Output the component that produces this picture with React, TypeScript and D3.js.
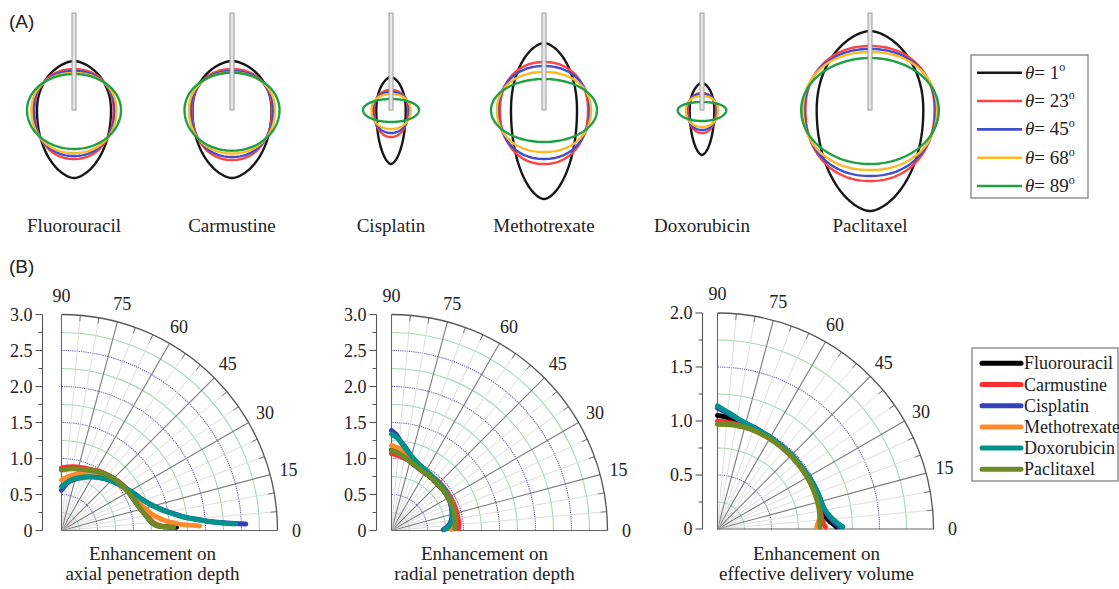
import React from 'react';
import * as d3 from 'd3';

// ---- panel A: penetration contours ----
const drugs = ['Fluorouracil', 'Carmustine', 'Cisplatin', 'Methotrexate', 'Doxorubicin', 'Paclitaxel'];
const thetaLabels = ['1', '23', '45', '68', '89'];
const thetaColors = ['#161616', '#ff4242', '#3f4fcf', '#ffb923', '#1fa045'];

// [half width, extent above tip, extent below tip] per theta (1, 23, 45, 68, 89 deg)
const fluorouracilShape = [[3.7, 4.9, 6.8], [3.95, 4.1, 4.9], [4.05, 3.9, 4.6], [4.25, 3.7, 4.3], [4.7, 3.6, 3.9]];
const carmustineShape = [[3.95, 4.9, 6.8], [4.0, 4.1, 5.0], [4.1, 3.9, 4.7], [4.3, 3.75, 4.35], [4.75, 3.73, 4.07]];
const cisplatinShape = [[1.47, 3.3, 5.4], [1.7, 2.0, 2.7], [1.8, 1.8, 2.3], [1.95, 1.6, 1.9], [2.8, 1.1, 1.2]];
const methotrexateShape = [[3.3, 6.7, 8.9], [4.4, 4.8, 5.4], [4.55, 4.4, 4.9], [4.7, 3.8, 4.2], [5.3, 3.1, 3.2]];
const doxorubicinShape = [[1.23, 2.7, 4.5], [1.4, 1.7, 2.3], [1.5, 1.6, 2.0], [1.6, 1.4, 1.7], [2.43, 0.8, 1.1]];
const paclitaxelShape = [[5.33, 7.9, 10.1], [6.45, 6.4, 7.1], [6.55, 6.1, 6.6], [6.7, 5.8, 6.0], [6.88, 5.2, 5.4]];
const panelAShapes = [fluorouracilShape, carmustineShape, cisplatinShape, methotrexateShape, doxorubicinShape, paclitaxelShape];

// ---- panel B: polar enhancement curves, [angle deg, value] ----
const drugColors = ['#000000', '#ff2d2d', '#3342b8', '#ff8a2a', '#00928b', '#6e8a26'];

const axialFluorouracil = [[90, 0.85], [80, 0.88], [70, 0.91], [60, 0.95], [50, 1.0], [40, 1.04], [30, 1.07], [24, 1.09], [18, 1.12], [13, 1.16], [8.5, 1.21], [4.5, 1.27], [2.7, 1.34], [2.0, 1.45], [1.6, 1.6]];
const axialCarmustine = [[90, 0.87], [80, 0.9], [70.7, 0.92], [62, 0.95], [53.8, 0.99], [45, 1.02], [38.9, 1.05], [31, 1.08], [24.2, 1.11], [18, 1.14], [12.9, 1.18], [8, 1.23], [4.5, 1.29], [2.6, 1.38], [1.7, 1.52]];
const axialCisplatin = [[90, 0.56], [86, 0.62], [82, 0.68], [75, 0.74], [67.7, 0.8], [60, 0.86], [51.3, 0.93], [43, 0.99], [35.3, 1.05], [27, 1.13], [20.4, 1.21], [15.5, 1.31], [11.4, 1.44], [8.5, 1.58], [6, 1.74], [4.5, 1.92], [3.3, 2.1], [2.6, 2.3], [2.0, 2.56]];
const axialMethotrexate = [[90, 0.7], [82, 0.76], [72, 0.83], [62, 0.9], [50, 0.97], [40, 1.02], [31.8, 1.06], [24, 1.11], [16.2, 1.18], [11, 1.26], [7.1, 1.37], [4.5, 1.5], [3.1, 1.64], [2.4, 1.78], [1.9, 1.92]];
const axialDoxorubicin = [[90, 0.61], [85, 0.66], [80, 0.71], [72, 0.77], [64, 0.83], [55, 0.9], [46, 0.97], [38, 1.03], [30, 1.1], [22.5, 1.18], [17, 1.27], [12.5, 1.39], [9.2, 1.53], [6.5, 1.69], [4.8, 1.86], [3.5, 2.04], [2.7, 2.23], [2.2, 2.42]];
const axialPaclitaxel = [[90, 0.84], [80, 0.87], [70, 0.9], [60, 0.95], [50, 1.0], [40, 1.04], [30, 1.07], [24, 1.09], [18, 1.12], [13, 1.16], [8.5, 1.21], [4.5, 1.27], [2.7, 1.34], [2.0, 1.45], [1.6, 1.56]];

const radialFluorouracil = [[90, 1.12], [84, 1.07], [78, 1.02], [71.6, 0.97], [63, 0.93], [54.3, 0.92], [45, 0.91], [37.8, 0.91], [30, 0.91], [24, 0.91], [18, 0.91], [11.9, 0.9], [6, 0.89], [1.5, 0.88]];
const radialCarmustine = [[90, 1.07], [84, 1.04], [78, 1.01], [71, 0.98], [63, 0.95], [54, 0.94], [45, 0.94], [37, 0.94], [30, 0.94], [24, 0.94], [18, 0.94], [12, 0.94], [6, 0.94], [1.5, 0.93]];
const radialCisplatin = [[90, 1.39], [87, 1.33], [84.7, 1.26], [80, 1.16], [76, 1.08], [72.9, 1.02], [65, 0.97], [55, 0.94], [45, 0.93], [36.9, 0.93], [28, 0.91], [21.2, 0.89], [15, 0.87], [11, 0.85], [6, 0.81], [3.4, 0.77], [1, 0.72]];
const radialMethotrexate = [[90, 1.18], [85, 1.15], [81.7, 1.12], [76, 1.06], [70, 1.01], [62, 0.97], [54, 0.94], [45, 0.93], [37, 0.92], [28, 0.92], [20, 0.91], [12, 0.9], [6, 0.88], [2, 0.85], [1, 0.83]];
const radialDoxorubicin = [[90, 1.34], [86, 1.28], [83, 1.21], [79, 1.13], [74, 1.06], [68, 1.0], [60, 0.96], [50, 0.94], [40, 0.93], [30, 0.92], [22, 0.9], [15, 0.88], [10, 0.86], [5, 0.81], [2.5, 0.77], [1, 0.74]];
const radialPaclitaxel = [[90, 1.11], [84, 1.07], [78, 1.02], [71.6, 0.97], [63, 0.93], [54.3, 0.92], [45, 0.91], [37.8, 0.91], [30, 0.91], [24, 0.91], [18, 0.91], [11.9, 0.9], [6, 0.89], [1.5, 0.88]];

const volumeFluorouracil = [[90, 1.05], [86, 1.04], [80, 1.01], [72, 0.99], [60, 0.97], [45, 0.965], [30, 0.97], [20, 0.975], [12, 0.98], [7, 1.0], [4, 1.04], [2, 1.08], [1, 1.1]];
const volumeCarmustine = [[90, 1.0], [84, 0.99], [75, 0.98], [60, 0.97], [45, 0.96], [30, 0.965], [20, 0.97], [12, 0.97], [6, 0.97], [3, 0.98], [1, 1.0]];
const volumeCisplatin = [[90, 1.12], [86.5, 1.09], [82, 1.05], [77, 1.02], [70, 1.0], [60, 0.98], [45, 0.97], [33, 0.97], [25, 0.98], [18, 0.99], [12, 1.0], [7, 1.03], [4, 1.07], [2, 1.11], [1, 1.13]];
const volumeMethotrexate = [[90, 0.97], [82, 0.975], [72, 0.975], [60, 0.965], [45, 0.96], [30, 0.96], [20, 0.96], [12, 0.96], [6, 0.95], [3, 0.93], [1, 0.92]];
const volumeDoxorubicin = [[90, 1.14], [86.5, 1.1], [83, 1.07], [79.6, 1.04], [74, 1.01], [68, 0.99], [60, 0.98], [50, 0.97], [41.5, 0.97], [33, 0.97], [25.7, 0.98], [18, 0.99], [12, 1.0], [8, 1.03], [5, 1.07], [2.5, 1.12], [1, 1.16]];
const volumePaclitaxel = [[90, 0.97], [82, 0.975], [72, 0.975], [60, 0.965], [45, 0.96], [30, 0.96], [20, 0.96], [12, 0.96], [6, 0.955], [3, 0.95], [1, 0.95]];

const serif = '"Liberation Serif", "Times New Roman", serif';
const sans = '"Liberation Sans", Arial, sans-serif';

// layout
const columnX = [74, 232, 391, 544, 702, 870];
const tipY = 110;

function shapePoints(hw: number, up: number, down: number, m: number, n: number) {
  return d3.range(0, 361, 2).map(a => {
    const t = (a * Math.PI) / 180;
    const c = Math.cos(t), s = Math.sin(t);
    const x = hw * Math.sign(c) * Math.pow(Math.abs(c), 2 / m);
    const y = (s >= 0 ? up : down) * Math.sign(s) * Math.pow(Math.abs(s), 2 / n);
    return [x, y] as [number, number];
  });
}

function ContourGroup({ cx, shapes, label }: { cx: number; shapes: number[][]; label: string }) {
  const sx = d3.scaleLinear().domain([-12, 12]).range([cx - 120, cx + 120]);
  const sy = d3.scaleLinear().domain([-12, 12]).range([tipY + 120, tipY - 120]);
  const line = d3.line<[number, number]>().x(d => sx(d[0])).y(d => sy(d[1])).curve(d3.curveLinearClosed);
  return (
    <g>
      {shapes.map((s, i) => {
        const m = i === 0 ? 1.68 : i === 4 ? 2.0 : 2.15;
        const n = i === 0 ? 2.1 : i === 4 ? 2.0 : 2.15;
        return <path key={i} d={line(shapePoints(s[0], s[1], s[2], m, n)) || ''} fill="none" stroke={thetaColors[i]} strokeWidth={2.4} />;
      })}
      <rect x={cx - 2} y={13} width={4} height={tipY - 13} fill="#e6e6e6" stroke="#9a9a9a" strokeWidth={1} />
      <text x={cx} y={232} textAnchor="middle" fontFamily={serif} fontSize={19} fill="#222">{label}</text>
    </g>
  );
}

function PolarPanel({ ox, oy, max, curves, axisGap, titleX, title1, title2 }: any) {
  const R = 216;
  const r = d3.scaleLinear().domain([0, max]).range([0, R]);
  const rad = (deg: number) => (deg * Math.PI) / 180;
  const pt = (deg: number, rr: number) => [ox + rr * Math.cos(rad(deg)), oy - rr * Math.sin(rad(deg))];
  const arc = (rr: number) => `M${ox + rr},${oy} A${rr},${rr} 0 0 0 ${ox},${oy - rr}`;
  const rings = d3.range(0.25, max, 0.25);
  const spokes = d3.range(5, 90, 5);
  const line = d3.lineRadial<number[]>()
    .angle(d => rad(90 - d[0]))
    .radius(d => r(d[1]))
    .curve(d3.curveCatmullRom);
  const axisX = ox - axisGap;
  const majorTicks = d3.range(0, max + 0.01, 0.5);
  const minorTicks = d3.range(0.25, max, 0.5);
  return (
    <g>
      {rings.map((v, i) => (
        <path key={'ring' + i} d={arc(r(v))} fill="none"
          stroke={i % 2 === 0 ? '#a3d9b2' : '#5b5bb4'} strokeWidth={1.1}
          strokeDasharray={i % 2 === 0 ? undefined : '1.2,1'} />
      ))}
      {spokes.map(a => {
        const [x2, y2] = pt(a, R);
        const major = a % 15 === 0;
        return <line key={'sp' + a} x1={ox} y1={oy} x2={x2} y2={y2} stroke={major ? '#7a7a7a' : '#d9d9d9'} strokeWidth={major ? 1.1 : 0.9} />;
      })}
      {spokes.filter(a => a % 15 !== 0).map(a => {
        const [x1, y1] = pt(a, R - 6);
        const [x2, y2] = pt(a, R);
        return <line key={'tk' + a} x1={x1} y1={y1} x2={x2} y2={y2} stroke="#777" strokeWidth={1} />;
      })}
      <path d={arc(R)} fill="none" stroke="#555" strokeWidth={1.3} />
      <line x1={ox} y1={oy} x2={ox + R} y2={oy} stroke="#666" strokeWidth={1.1} />
      <line x1={ox} y1={oy} x2={ox} y2={oy - R} stroke="#666" strokeWidth={1.1} />
      {d3.range(0, 91, 15).map(a => {
        const [x, y] = pt(a, R + 19);
        return <text key={'al' + a} x={x} y={y} textAnchor="middle" dominantBaseline="central" fontFamily={serif} fontSize={18} fill="#222">{a}</text>;
      })}
      {/* radius axis */}
      <line x1={axisX} y1={oy} x2={axisX} y2={oy - R} stroke="#555" strokeWidth={1.1} />
      {majorTicks.map(v => (
        <g key={'mt' + v}>
          <line x1={axisX - 7} y1={oy - r(v)} x2={axisX} y2={oy - r(v)} stroke="#555" strokeWidth={1.1} />
          <text x={axisX - 10} y={oy - r(v)} textAnchor="end" dominantBaseline="central" fontFamily={serif} fontSize={18} fill="#222">
            {v === 0 ? '0' : d3.format('.1f')(v)}
          </text>
        </g>
      ))}
      {minorTicks.map(v => (
        <line key={'mn' + v} x1={axisX - 4} y1={oy - r(v)} x2={axisX} y2={oy - r(v)} stroke="#555" strokeWidth={1} />
      ))}
      {curves.map((c: number[][], i: number) => (
        <path key={'c' + i} transform={`translate(${ox},${oy})`} d={line(c) || ''} fill="none"
          stroke={drugColors[i]} strokeWidth={5} strokeLinecap="round" strokeLinejoin="round" />
      ))}
      <text x={titleX} y={560} textAnchor="middle" fontFamily={serif} fontSize={19} fill="#222">{title1}</text>
      <text x={titleX} y={580} textAnchor="middle" fontFamily={serif} fontSize={19} fill="#222">{title2}</text>
    </g>
  );
}

export default function App() {
  const axial = [axialFluorouracil, axialCarmustine, axialCisplatin, axialMethotrexate, axialDoxorubicin, axialPaclitaxel];
  const radial = [radialFluorouracil, radialCarmustine, radialCisplatin, radialMethotrexate, radialDoxorubicin, radialPaclitaxel];
  const volume = [volumeFluorouracil, volumeCarmustine, volumeCisplatin, volumeMethotrexate, volumeDoxorubicin, volumePaclitaxel];
  const legARow = d3.scaleLinear().domain([0, 4]).range([72.7, 186]);
  const legBRow = d3.scaleLinear().domain([0, 5]).range([363.3, 469.3]);
  return (
    <div>
      <style>{'body{margin:0}'}</style>
      <svg width={1119} height={589} style={{ display: 'block', background: '#fff' }}>
        <text x={9} y={28} fontFamily={sans} fontSize={19} fill="#222">(A)</text>
        <text x={9} y={273} fontFamily={sans} fontSize={19} fill="#222">(B)</text>

        {drugs.map((d, i) => (
          <ContourGroup key={d} cx={columnX[i]} shapes={panelAShapes[i]} label={d} />
        ))}

        {/* legend A */}
        <rect x={971} y={55} width={117} height={143} fill="#fff" stroke="#8a8a8a" strokeWidth={1.4} />
        {thetaLabels.map((t, i) => (
          <g key={t}>
            <line x1={977} x2={1022} y1={legARow(i)} y2={legARow(i)} stroke={thetaColors[i]} strokeWidth={2.6} />
            <text x={1025} y={legARow(i) + 6} fontFamily={serif} fontSize={19} fill="#222">
              <tspan fontStyle="italic">θ</tspan>
              <tspan>= {t}</tspan>
              <tspan dy={-8} fontSize={12}>o</tspan>
            </text>
          </g>
        ))}

        <PolarPanel ox={61.5} oy={530.5} max={3} curves={axial} axisGap={19} titleX={152.5}
          title1="Enhancement on" title2="axial penetration depth" />
        <PolarPanel ox={391.5} oy={530.5} max={3} curves={radial} axisGap={15} titleX={484.5}
          title1="Enhancement on" title2="radial penetration depth" />
        <PolarPanel ox={717.5} oy={529} max={2} curves={volume} axisGap={15} titleX={816.5}
          title1="Enhancement on" title2="effective delivery volume" />

        {/* legend B */}
        <rect x={972} y={348} width={146} height={133} fill="#fff" stroke="#8a8a8a" strokeWidth={1.4} />
        {drugs.map((d, i) => (
          <g key={d}>
            <line x1={982} x2={1021} y1={legBRow(i)} y2={legBRow(i)} stroke={drugColors[i]} strokeWidth={5} strokeLinecap="round" />
            <text x={1024} y={legBRow(i) + 6} fontFamily={serif} fontSize={18} fill="#222">{d}</text>
          </g>
        ))}
      </svg>
    </div>
  );
}
